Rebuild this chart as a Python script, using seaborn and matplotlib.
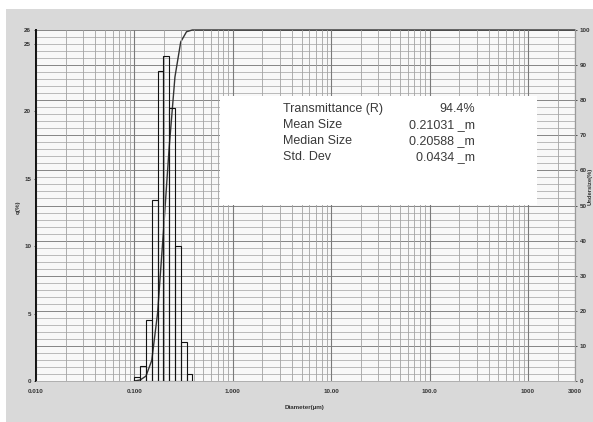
import numpy as np
import pandas as pd
import matplotlib
matplotlib.use("Agg")
import matplotlib.pyplot as plt
import seaborn as sns
from matplotlib.patches import Rectangle
from matplotlib.ticker import FixedLocator, NullFormatter, LogLocator

# Channel edges in micrometres (17 channels per decade)
edges_um = [0.10000, 0.11450, 0.13111, 0.15013, 0.17191, 0.19684,
            0.22539, 0.25809, 0.29553, 0.33840, 0.38748]
# Frequency per channel, q (%)
q_pct = [0.3, 1.1, 4.5, 13.4, 23.0, 24.1, 20.2, 10.0, 2.9, 0.5]
# Cumulative undersize (%) at each channel edge
undersize_pct = [0.0, 0.3, 1.4, 5.9, 19.3, 42.3, 66.4, 86.6, 96.6, 99.5, 100.0]
# Range limits of the analyser scale
d_min, d_max = 0.01, 3000.0

x_ticks = [0.01, 0.1, 1.0, 10.0, 100.0, 1000.0, 3000.0]
x_tick_labels = ["0.010", "0.100", "1.000", "10.00", "100.0", "1000", "3000"]
q_ticks = [0, 5, 10, 15, 20, 25, 26]
u_ticks = [0, 10, 20, 30, 40, 50, 60, 70, 80, 90, 100]

stat_names = ["Transmittance (R)", "Mean Size", "Median Size", "Std. Dev"]
stat_values = ["94.4%", "0.21031 _m", "0.20588 _m", "0.0434 _m"]

sns.set_theme(style="white")
plt.rcParams["font.family"] = ["Liberation Sans", "DejaVu Sans"]

W, H = 593, 422
fig = plt.figure(figsize=(W / 100, H / 100), dpi=100)
fig.patch.set_facecolor("#d9d9d9")
# white scanner margins on top and left
fig.add_artist(Rectangle((0, 1 - 9 / H), 1, 9 / H, transform=fig.transFigure,
                         facecolor="white", edgecolor="none", zorder=0))
fig.add_artist(Rectangle((0, 0), 6 / W, 1, transform=fig.transFigure,
                         facecolor="white", edgecolor="none", zorder=0))

L, R, T, B = 36, 575, 30, 381
ax = fig.add_axes([L / W, 1 - B / H, (R - L) / W, (B - T) / H])
ax2 = ax.twinx()

# cumulative axis sits behind; its patch is the plot background
ax.set_zorder(ax2.get_zorder() + 1)
ax.patch.set_visible(False)
ax2.patch.set_visible(True)
ax2.patch.set_facecolor("#f8f8f8")

ax.set_xscale("log")
ax.set_xlim(d_min, d_max)
ax.set_ylim(0, 26)
ax2.set_ylim(0, 100)

# frequency histogram (outlined channels); bins are given in log10 space
edges = np.array(edges_um)
centers = np.sqrt(edges[:-1] * edges[1:])
hist_df = pd.DataFrame({"diameter": centers, "q": q_pct})
sns.histplot(data=hist_df, x="diameter", weights="q",
             bins=[float(v) for v in np.log10(edges)],
             fill=False, element="bars", color="#111111", linewidth=0.8,
             stat="count", ax=ax)

# cumulative undersize curve
cum_df = pd.DataFrame({"diameter": edges_um + [d_max],
                       "undersize": undersize_pct + [100.0]})
sns.lineplot(data=cum_df, x="diameter", y="undersize", color="#333333",
             linewidth=1.0, ax=ax2, clip_on=False)
ax2.set_xscale("log")
ax2.set_xlim(d_min, d_max)

# vertical log grid
ax.xaxis.set_major_locator(FixedLocator(x_ticks))
ax.set_xticklabels(x_tick_labels)
ax.xaxis.set_minor_locator(LogLocator(base=10, subs=np.arange(2, 10), numticks=20))
ax.xaxis.set_minor_formatter(NullFormatter())
ax.grid(True, which="major", axis="x", color="#7a7a7a", linewidth=0.8)
ax.grid(True, which="minor", axis="x", color="#a2a2a2", linewidth=0.6)
ax.grid(False, axis="y")
ax.set_axisbelow(True)

# horizontal grid from cumulative scale
ax2.yaxis.set_major_locator(FixedLocator(u_ticks))
ax2.yaxis.set_minor_locator(FixedLocator(np.arange(0, 101, 2)))
ax2.grid(True, which="major", axis="y", color="#858585", linewidth=0.7)
ax2.grid(True, which="minor", axis="y", color="#b0b0b0", linewidth=0.6)
ax2.grid(False, axis="x")

ax.yaxis.set_major_locator(FixedLocator(q_ticks))
ax.set_yticklabels([str(v) for v in q_ticks])
ax2.set_yticklabels([str(v) for v in u_ticks])

tick_kw = dict(labelsize=4.5, colors="#333333", length=1.5, width=0.6)
ax.tick_params(axis="x", which="major", pad=4, **tick_kw)
ax.tick_params(axis="x", which="minor", length=0)
ax.tick_params(axis="y", which="major", pad=2, left=True, **tick_kw)
ax2.tick_params(axis="y", which="major", pad=2, right=True, **tick_kw)
ax2.tick_params(axis="y", which="minor", length=0)
for lab in ax.get_xticklabels() + ax.get_yticklabels() + ax2.get_yticklabels():
    lab.set_fontweight("bold")

ax.set_xlabel("")
ax.set_ylabel("")
ax2.set_xlabel("")
ax2.set_ylabel("")

for a in (ax, ax2):
    a.spines["top"].set_visible(False)
    a.spines["left"].set_color("#111111")
    a.spines["left"].set_linewidth(1.3)
    a.spines["right"].set_color("#9a9a9a")
    a.spines["right"].set_linewidth(0.8)
    a.spines["bottom"].set_color("#b0b0b0")
    a.spines["bottom"].set_linewidth(0.6)

# statistics panel
bx0, bx1 = (220 - L) / (R - L), (537 - L) / (R - L)
by1, by0 = (B - 96) / (B - T), (B - 205) / (B - T)
ax.add_patch(Rectangle((bx0, by0), bx1 - bx0, by1 - by0, transform=ax.transAxes,
                       facecolor="white", edgecolor="none", zorder=5))
row_px = [109, 125, 141, 157]
for name, val, py in zip(stat_names, stat_values, row_px):
    yy = (B - py) / (B - T)
    ax.text((283 - L) / (R - L), yy, name, transform=ax.transAxes, fontsize=9,
            color="#3a3a3a", va="center", ha="left", zorder=6)
    ax.text((475 - L) / (R - L), yy, val, transform=ax.transAxes, fontsize=9,
            color="#3a3a3a", va="center", ha="right", zorder=6)

# axis titles
fig.text(18 / W, 1 - 207 / H, "q(%)", rotation=90, fontsize=4.5,
         fontweight="bold", color="#333333", ha="center", va="center")
fig.text(305 / W, 1 - 407 / H, "Diameter(µm)", fontsize=4.5,
         fontweight="bold", color="#333333", ha="center", va="center")
fig.text(590.5 / W, 1 - 186 / H, "Undersize(%)", rotation=90, fontsize=4.2,
         fontweight="bold", color="#333333", ha="center", va="center")

fig.savefig("out.png", dpi=100, facecolor=fig.get_facecolor())
